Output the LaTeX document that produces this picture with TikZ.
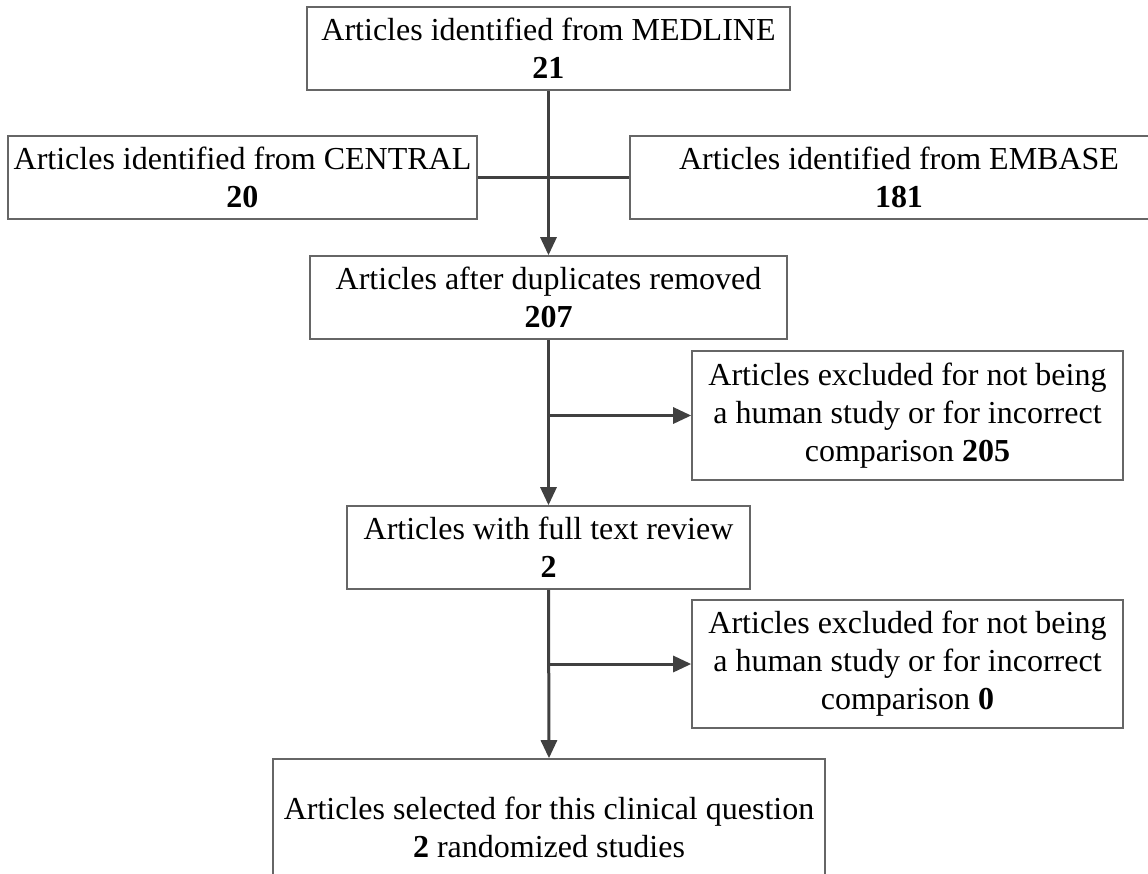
\documentclass[tikz,border=0pt]{standalone}
\usepackage{fontspec}
\setmainfont{Liberation Serif}
\usetikzlibrary{arrows.meta}

\begin{document}
\begin{tikzpicture}[x=0.5pt,y=-0.5pt,>={Triangle[length=9pt,width=8pt]}]
    \tikzstyle{box}=[rectangle, draw=black!60, line width=0.8pt, align=center, inner sep=0pt,
        font=\fontsize{16}{19}\selectfont]
    \tikzstyle{flow}=[draw=black!75, line width=1.5pt]
    \tikzstyle{arr}=[flow, ->]

    \useasboundingbox (0,0) rectangle (1148,874);
    \clip (0,0) rectangle (1148,874);

    % Draw the source boxes
    \node[box, minimum width=241.5pt, minimum height=41.5pt] (medline) at (548.5,48.5)
        {Articles identified from MEDLINE\\\textbf{21}};
    \node[box, minimum width=234.5pt, minimum height=41.5pt] (central) at (242.5,177.5)
        {Articles identified from CENTRAL\\\textbf{20}};
    \node[box, minimum width=269pt, minimum height=41.5pt] (embase) at (899,177.5)
        {Articles identified from EMBASE\\\textbf{181}};

    % Draw the screening boxes
    \node[box, minimum width=238.5pt, minimum height=41.5pt] (dup) at (548.5,297.5)
        {Articles after duplicates removed\\\textbf{207}};
    \node[box, minimum width=215.5pt, minimum height=64.5pt] (excl1) at (907.5,415.5)
        {Articles excluded for not being\\a human study or for incorrect\\comparison \textbf{205}};
    \node[box, minimum width=201.5pt, minimum height=41.5pt] (full) at (548.5,547.5)
        {Articles with full text review\\\textbf{2}};
    \node[box, minimum width=215.5pt, minimum height=64pt] (excl2) at (907.5,664)
        {Articles excluded for not being\\a human study or for incorrect\\comparison \textbf{0}};
    \node[box, minimum width=276pt, minimum height=68.5pt] (sel) at (549,827.5)
        {Articles selected for this clinical question\\\textbf{2} randomized studies};

    % Connect the sources with the main line
    \path[flow] (central.east) -- (embase.west);
    \path[arr] (medline.south) -- (dup.north);

    % Connect the main line with the exclusion boxes
    \coordinate (b1) at (dup.south |- excl1.west);
    \coordinate (b2) at (full.south |- excl2.west);
    \path[arr] (dup.south) -- (full.north);
    \path[arr] (b1) -- (excl1.west);
    \path[arr] (full.south) -- (sel.north);
    \path[arr] (b2) -- (excl2.west);
\end{tikzpicture}
\end{document}
